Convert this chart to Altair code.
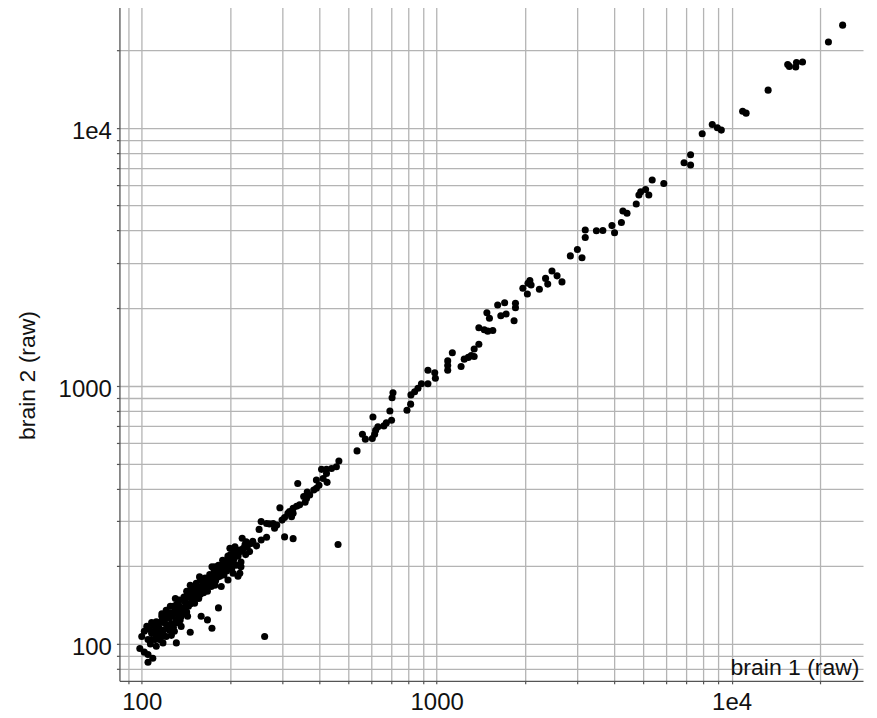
import altair as alt
import pandas as pd

# brain 1 (raw) values
brain1 = [
    23800, 21300, 17400, 16600, 16500, 15700, 15500, 13300, 10900, 11200,
    8600, 8950, 9230, 7950, 6900, 7260, 7260, 5890, 5380, 5110,
    4920, 4850, 5240, 4750, 4280, 4420, 4230, 3930, 4010, 3660,
    3480, 3190, 3190, 3000, 2840, 3110, 2460, 2560, 2340, 2660,
    2380, 2230, 2070, 2090, 2040, 1960, 2030, 1850, 1850, 1830,
    1700, 1610, 1720, 1650, 1480, 1510, 1390, 1450, 1490, 1550,
    1390, 1340, 1130, 1310, 1340, 1280, 1240, 1210, 1090, 1090,
    1090, 934, 985, 990, 934, 888, 864, 842, 818, 816,
    793, 711, 706, 694, 703, 675, 662, 632, 621, 608,
    616, 605, 560, 573, 537, 466, 457, 440, 423, 407,
    423, 412, 391, 399, 383, 371, 362, 358, 338, 343,
    335, 326, 322, 313, 305, 294, 299, 287, 282, 279,
    271, 265, 254, 250, 305, 326, 265, 254, 245, 235,
    226, 219, 221, 215, 207, 199, 212, 204, 196, 217,
    209, 189, 182, 173, 463, 261, 173, 182, 159, 167,
    146, 131, 118, 112, 109, 105, 102, 98.5, 100, 102,
    104, 108, 112, 117, 121, 125, 130, 134, 139, 142,
    147, 146, 153, 161, 167, 157, 164, 171, 179, 194,
    177, 188, 196, 215, 212, 196, 194, 204, 186, 181,
    171, 196, 186, 177, 167, 155, 144, 151, 140, 134,
    142, 133, 131, 126, 122, 123, 118, 114, 112, 108,
    105, 105, 121, 126, 129, 136, 364, 354, 326, 317,
    391, 425, 117, 128, 133, 146, 151, 159, 177, 191,
    201, 207, 111, 117, 108, 115, 120, 136, 129, 124,
    151, 159, 172, 217,
    106, 110, 113, 107, 111, 114,
    116, 119, 122, 118, 124, 120, 125,
    127, 130, 132, 128, 134, 131, 135,
    138, 141, 144, 137, 148, 146, 143, 149,
    153, 156, 160, 163, 158, 154, 162, 165,
    168, 172, 175, 178, 170, 182, 184, 176,
    188, 192, 198, 202, 205, 190, 200, 206,
    213, 218, 224, 228, 232, 238, 225,
]

# brain 2 (raw) values
brain2 = [
    25000, 21500, 18000, 17900, 17200, 17300, 17600, 14000, 11600, 11400,
    10300, 10000, 9800, 9480, 7320, 7870, 7180, 6090, 6280, 5770,
    5650, 5490, 5490, 5070, 4760, 4670, 4300, 4180, 3920, 4000,
    3990, 4020, 3760, 3380, 3190, 3140, 2790, 2670, 2610, 2530,
    2480, 2370, 2560, 2460, 2500, 2390, 2270, 2090, 2010, 1790,
    2100, 2060, 1900, 1870, 1920, 1830, 1680, 1650, 1630, 1640,
    1450, 1390, 1345, 1310, 1300, 1290, 1270, 1190, 1250, 1200,
    1150, 1150, 1125, 1070, 1020, 1020, 980, 950, 923, 850,
    805, 940, 900, 800, 736, 719, 700, 695, 673, 758,
    650, 626, 650, 622, 560, 512, 486, 479, 475, 475,
    458, 438, 432, 412, 395, 378, 366, 354, 419, 346,
    342, 321, 311, 321, 309, 337, 302, 289, 281, 293,
    292, 293, 298, 278, 260, 256, 259, 253, 240, 245,
    249, 257, 235, 231, 238, 235, 219, 214, 208, 208,
    202, 205, 202, 199, 243, 107, 115, 138, 128, 124,
    111, 101, 101, 98, 88, 85, 93, 96, 107, 112,
    117, 121, 122, 131, 135, 140, 150, 148, 152, 160,
    162, 169, 172, 175, 169, 182, 180, 182, 188, 192,
    199, 211, 219, 188, 183, 214, 196, 188, 190, 182,
    177, 177, 167, 169, 160, 155, 152, 144, 146, 140,
    133, 130, 124, 120, 130, 117, 113, 117, 108, 110,
    104, 91, 107, 108, 112, 117, 388, 373, 336, 326,
    401, 423, 128, 140, 144, 158, 167, 177, 188, 205,
    208, 222, 113, 107, 104, 104, 120, 128, 132, 126,
    152, 162, 167, 199,
    114, 118, 112, 100, 104, 110,
    122, 125, 118, 109, 113, 128, 132,
    128, 136, 121, 116, 134, 142, 124,
    138, 145, 140, 131, 150, 143, 128, 156,
    160, 150, 168, 172, 156, 165, 158, 165,
    175, 172, 180, 176, 186, 192, 183, 193,
    196, 200, 202, 196, 212, 185, 222, 228,
    225, 230, 243, 238, 228, 250, 222,
]

x_ticks = [90, 100, 200, 300, 400, 500, 600, 700, 800, 900,
           1000, 2000, 3000, 4000, 5000, 6000, 7000, 8000, 9000,
           10000, 20000]
y_ticks = [80, 90, 100, 200, 300, 400, 500, 600, 700, 800, 900,
           1000, 2000, 3000, 4000, 5000, 6000, 7000, 8000, 9000,
           10000, 20000]

x_domain = [84, 27900]
y_domain = [72, 29600]

label_expr = ("datum.value == 100 ? '100' : datum.value == 1000 ? '1000' : "
              "datum.value == 10000 ? '1e4' : ''")

df = pd.DataFrame({"brain1": brain1, "brain2": brain2})

FONT = "Liberation Sans"
GRID = "#b4b4b4"
DOMAIN = "#555555"

x_axis = alt.Axis(
    values=x_ticks, labelExpr=label_expr, grid=True,
    gridColor=GRID, gridWidth=1.3,
    domainColor=DOMAIN, domainWidth=1.3,
    tickColor=DOMAIN, tickSize=3, tickWidth=1.2,
    labelFont=FONT, labelFontSize=24, labelColor="#111111",
    labelPadding=7, labelFlush=False, labelOverlap=False,
    title="brain 1 (raw)", titleFont=FONT, titleFontSize=23,
    titleFontWeight="normal", titleColor="#111111",
    titleX=740, titleY=-6, titleAlign="right", titleBaseline="alphabetic",
)
y_axis = alt.Axis(
    values=y_ticks, labelExpr=label_expr, grid=True,
    gridColor=GRID, gridWidth=1.3,
    domainColor=DOMAIN, domainWidth=1.3,
    tickColor=DOMAIN, tickSize=3, tickWidth=1.2,
    labelFont=FONT, labelFontSize=24, labelColor="#111111",
    labelPadding=5, labelOffset=4, labelBaseline="middle",
    labelFlush=False, labelOverlap=False,
    title="brain 2  (raw)", titleFont=FONT, titleFontSize=23,
    titleFontWeight="normal", titleColor="#111111",
    titleAngle=270, titleX=-85, titleY=369, titleAlign="center",
    titleBaseline="alphabetic",
)

chart = alt.Chart(df).mark_circle(size=50, color="#000000", opacity=1).encode(
    x=alt.X("brain1:Q", scale=alt.Scale(type="log", domain=x_domain, nice=False, zero=False), axis=x_axis),
    y=alt.Y("brain2:Q", scale=alt.Scale(type="log", domain=y_domain, nice=False, zero=False), axis=y_axis),
).properties(
    width=744, height=675,
    autosize=alt.AutoSizeParams(type="none"),
    padding={"left": 111.5, "top": -2, "right": 6, "bottom": 40},
).configure_view(stroke="transparent")

chart.save("out.html", embed_options={"renderer": "svg", "actions": False})
